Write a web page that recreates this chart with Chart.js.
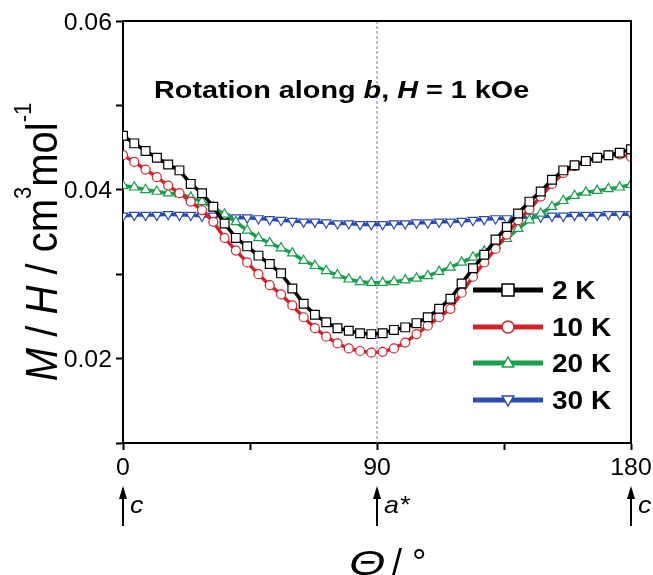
<!DOCTYPE html>
<html>
<head>
<meta charset="utf-8">
<script src="https://cdn.jsdelivr.net/npm/chart.js@4/dist/chart.umd.min.js"></script>
<style>
  html, body { margin: 0; padding: 0; background: #fff; }
</style>
</head>
<body>
<canvas id="chart" width="653" height="575"></canvas>
<script>
// rotation angle, degrees
const angles = [0, 4, 8, 12, 16, 20, 24, 28, 32, 36, 40, 44, 48, 52, 56, 60, 64, 68, 72, 76, 80, 84, 88,
  92, 96, 100, 104, 108, 112, 116, 120, 124, 128, 132, 136, 140, 144, 148, 152, 156, 160, 164, 168, 172, 176, 180];

// M/H in cm3/mol
const mh2K = [0.0464, 0.0455, 0.0446, 0.0438, 0.0430, 0.0423, 0.0407, 0.0396, 0.0380, 0.0360, 0.0343, 0.0333,
  0.0322, 0.0312, 0.0301, 0.0283, 0.0265, 0.0252, 0.0243, 0.0236, 0.0233, 0.0230, 0.0229, 0.0230, 0.0234,
  0.0237, 0.0242, 0.0249, 0.0259, 0.0271, 0.0289, 0.0307, 0.0323, 0.0341, 0.0356, 0.0372, 0.0386, 0.0398,
  0.0412, 0.0423, 0.0429, 0.0434, 0.0438, 0.0441, 0.0444, 0.0448];
const mh10K = [0.0441, 0.0433, 0.0424, 0.0415, 0.0405, 0.0396, 0.0386, 0.0376, 0.0362, 0.0343, 0.0328, 0.0314,
  0.0300, 0.0287, 0.0276, 0.0263, 0.0249, 0.0236, 0.0226, 0.0218, 0.0212, 0.0209, 0.0207, 0.0208, 0.0212,
  0.0219, 0.0229, 0.0239, 0.0249, 0.0259, 0.0278, 0.0297, 0.0314, 0.0330, 0.0347, 0.0364, 0.0377, 0.0392,
  0.0407, 0.0420, 0.0428, 0.0434, 0.0438, 0.0441, 0.0442, 0.0439];
const mh20K = [0.0405, 0.0403, 0.0400, 0.0398, 0.0396, 0.0395, 0.0391, 0.0386, 0.0379, 0.0371, 0.0362, 0.0352,
  0.0343, 0.0337, 0.0331, 0.0325, 0.0316, 0.0310, 0.0304, 0.0299, 0.0294, 0.0291, 0.0290, 0.0290, 0.0291,
  0.0293, 0.0295, 0.0298, 0.0303, 0.0308, 0.0314, 0.0320, 0.0327, 0.0334, 0.0342, 0.0354, 0.0364, 0.0372,
  0.0380, 0.0387, 0.0393, 0.0397, 0.0399, 0.0401, 0.0403, 0.0406];
const mh30K = [0.0369, 0.0370, 0.0370, 0.0370, 0.0371, 0.0370, 0.0370, 0.0369, 0.0369, 0.0368, 0.0367, 0.0367,
  0.0366, 0.0365, 0.0364, 0.0363, 0.0362, 0.0362, 0.0361, 0.0360, 0.0360, 0.0359, 0.0359, 0.0359, 0.0360,
  0.0360, 0.0361, 0.0361, 0.0362, 0.0362, 0.0363, 0.0364, 0.0365, 0.0366, 0.0366, 0.0367, 0.0368, 0.0368,
  0.0369, 0.0369, 0.0370, 0.0370, 0.0370, 0.0371, 0.0371, 0.0371];

const seriesLabels = ["2 K", "10 K", "20 K", "30 K"];
const xTickLabels = [0, 90, 180];
const yTickLabels = [0.02, 0.04, 0.06];
const axisMarks = [{ at: 0, text: "c" }, { at: 90, text: "a*" }, { at: 180, text: "c" }];

const FONT = '"Liberation Sans", Arial, sans-serif';
const STRETCH = 1.08;

const styles = [
  { color: "#000000", shape: "rect", radius: 6.2, rot: 0 },
  { color: "#d2232a", shape: "circle", radius: 4.5, rot: 0 },
  { color: "#16a04a", shape: "triangle", radius: 5.5, rot: 0 },
  { color: "#2b4bb4", shape: "triangle", radius: 5.5, rot: 180 }
];
const series = [mh2K, mh10K, mh20K, mh30K];

const datasets = series.map((vals, i) => ({
  label: seriesLabels[i],
  data: angles.map((a, j) => ({ x: a, y: vals[j] })),
  borderColor: styles[i].color,
  borderWidth: 3.5,
  pointStyle: styles[i].shape,
  pointRadius: styles[i].radius,
  pointRotation: styles[i].rot,
  pointBorderColor: styles[i].color,
  pointBackgroundColor: "#ffffff",
  pointBorderWidth: 1.2,
  tension: 0
}));

// draw a run of text pieces, a bit wide like the original figure
function drawPieces(ctx, pieces, x, y, align, sx) {
  ctx.save();
  ctx.textBaseline = "alphabetic";
  ctx.textAlign = "left";
  let total = 0;
  pieces.forEach(p => { ctx.font = p.font; total += ctx.measureText(p.text).width; });
  ctx.translate(x, y);
  ctx.scale(sx, 1);
  let cx = align === "center" ? -total / 2 : align === "right" ? -total : 0;
  pieces.forEach(p => {
    ctx.font = p.font;
    ctx.fillText(p.text, cx, -(p.rise || 0));
    cx += ctx.measureText(p.text).width;
  });
  ctx.restore();
}

function marker(ctx, st, x, y, r) {
  ctx.save();
  ctx.beginPath();
  if (st.shape === "rect") {
    ctx.rect(x - r, y - r, 2 * r, 2 * r);
  } else if (st.shape === "circle") {
    ctx.arc(x, y, r, 0, Math.PI * 2);
  } else {
    const d = st.rot ? -1 : 1;
    ctx.moveTo(x, y - d * r);
    ctx.lineTo(x + r * 0.95, y + d * r * 0.65);
    ctx.lineTo(x - r * 0.95, y + d * r * 0.65);
    ctx.closePath();
  }
  ctx.fillStyle = "#fff";
  ctx.fill();
  ctx.lineWidth = 1.5;
  ctx.strokeStyle = st.color;
  ctx.stroke();
  ctx.restore();
}

const extras = {
  id: "extras",
  beforeDatasetsDraw(chart) {
    const { ctx, chartArea, scales } = chart;
    const x90 = scales.x.getPixelForValue(90);
    ctx.save();
    ctx.strokeStyle = "#7d7dc8";
    ctx.lineWidth = 1;
    ctx.setLineDash([3, 2]);
    ctx.beginPath();
    ctx.moveTo(x90, chartArea.top);
    ctx.lineTo(x90, chartArea.bottom);
    ctx.stroke();
    ctx.restore();
  },
  afterDraw(chart) {
    const { ctx, chartArea, scales } = chart;
    ctx.save();
    ctx.fillStyle = "#000";
    ctx.strokeStyle = "#000";

    // top and right frame
    ctx.lineWidth = 2;
    ctx.beginPath();
    ctx.moveTo(chartArea.left, chartArea.top);
    ctx.lineTo(chartArea.right, chartArea.top);
    ctx.lineTo(chartArea.right, chartArea.bottom);
    ctx.stroke();

    // tick labels
    const tickFont = "23px " + FONT;
    xTickLabels.forEach(v => {
      drawPieces(ctx, [{ text: String(v), font: tickFont }], scales.x.getPixelForValue(v), 475, "center", STRETCH);
    });
    yTickLabels.forEach(v => {
      drawPieces(ctx, [{ text: v.toFixed(2), font: tickFont }], 112, scales.y.getPixelForValue(v) + 8.5, "right", STRETCH);
    });

    // crystal axis arrows under the x axis
    axisMarks.forEach(m => {
      const x = scales.x.getPixelForValue(m.at);
      ctx.lineWidth = 2;
      ctx.beginPath();
      ctx.moveTo(x, 496);
      ctx.lineTo(x, 526);
      ctx.stroke();
      ctx.beginPath();
      ctx.moveTo(x, 486);
      ctx.lineTo(x + 4, 499);
      ctx.lineTo(x - 4, 499);
      ctx.closePath();
      ctx.fill();
      drawPieces(ctx, [{ text: m.text, font: "italic 24px " + FONT }], x + 7, 513, "left", 1.12);
    });

    // x title
    drawPieces(ctx, [{ text: "\u0398", font: "italic 36px " + FONT }], 349, 575, "left", 1.3);
    drawPieces(ctx, [{ text: "/ \u00b0", font: "36px " + FONT }], 392, 575, "left", 1.0);

    // y title, rotated (glyphs widened along x like the rest of the figure)
    ctx.save();
    ctx.translate(57, 242);
    ctx.scale(1.12, 1);
    ctx.rotate(-Math.PI / 2);
    drawPieces(ctx, [
      { text: "M", font: "italic 40px " + FONT },
      { text: " / ", font: "40px " + FONT },
      { text: "H", font: "italic 40px " + FONT },
      { text: " / cm", font: "40px " + FONT },
      { text: "3", font: "22px " + FONT, rise: 23 },
      { text: "mol", font: "40px " + FONT },
      { text: "-1", font: "22px " + FONT, rise: 23 }
    ], 0, 0, "center", 1);
    ctx.restore();

    // annotation
    drawPieces(ctx, [
      { text: "Rotation along ", font: "bold 24px " + FONT },
      { text: "b", font: "italic bold 24px " + FONT },
      { text: ", ", font: "bold 24px " + FONT },
      { text: "H", font: "italic bold 24px " + FONT },
      { text: " = 1 kOe", font: "bold 24px " + FONT }
    ], 154, 98, "left", 1.2);

    // legend
    const rows = [290, 327, 363, 400];
    seriesLabels.forEach((lab, i) => {
      const y = rows[i];
      const st = styles[i];
      ctx.strokeStyle = st.color;
      ctx.lineWidth = 5;
      ctx.beginPath();
      ctx.moveTo(473, y);
      ctx.lineTo(543, y);
      ctx.stroke();
      marker(ctx, st, 508, y, 6);
      ctx.fillStyle = "#000";
      drawPieces(ctx, [{ text: lab, font: "bold 25px " + FONT }], 552, y + 9, "left", 1.12);
    });
    ctx.restore();
  }
};

new Chart(document.getElementById("chart"), {
  type: "line",
  data: { datasets },
  options: {
    responsive: false,
    animation: false,
    layout: { padding: { top: 21, right: 22, left: 0, bottom: 0 } },
    plugins: { legend: { display: false }, tooltip: { enabled: false } },
    scales: {
      x: {
        type: "linear",
        min: 0,
        max: 180,
        ticks: { stepSize: 45, display: false },
        grid: { drawOnChartArea: false, tickLength: 7, tickColor: "#000", tickWidth: 2 },
        border: { color: "#000", width: 2 },
        afterFit(s) { s.height = 132; }
      },
      y: {
        min: 0.01,
        max: 0.06,
        ticks: { stepSize: 0.01, display: false },
        grid: { drawOnChartArea: false, tickLength: 7, tickColor: "#000", tickWidth: 2 },
        border: { color: "#000", width: 2 },
        afterFit(s) { s.width = 123; }
      }
    }
  },
  plugins: [extras]
});
</script>
</body>
</html>
